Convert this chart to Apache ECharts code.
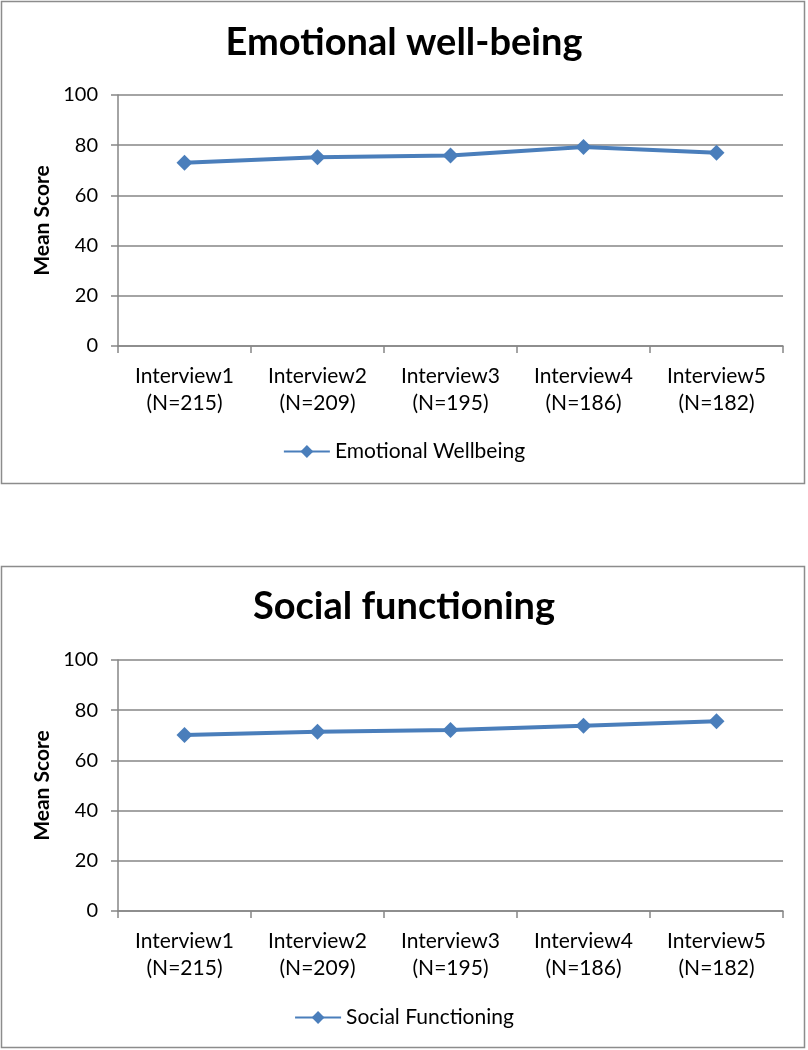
<!DOCTYPE html>
<html><head><meta charset="utf-8">
<script src="https://cdn.jsdelivr.net/npm/echarts@6/dist/echarts.min.js"></script>
<style>html,body{margin:0;padding:0;background:#fff}#c{width:808px;height:1050px}</style>
</head><body><div id="c"></div>
<script>
const categories = ['Interview1\n(N=215)','Interview2\n(N=209)','Interview3\n(N=195)','Interview4\n(N=186)','Interview5\n(N=182)'];
const emotionalWellbeing = [73.0, 75.2, 75.9, 79.3, 77.0];
const socialFunctioning = [70.1, 71.4, 72.1, 73.8, 75.6];
const titles = ['Emotional well-being','Social functioning'];
const seriesNames = ['Emotional Wellbeing','Social Functioning'];
const yTitle = 'Mean Score';

const FONT = 'Lato, "Open Sans", sans-serif';
const AX = '#868686';
const LINE = '#4a7ebb';
const chart = echarts.init(document.getElementById('c'));

function xAxis(i){return {type:'category',gridIndex:i,data:categories,boundaryGap:true,
  axisLine:{lineStyle:{color:AX,width:1.5}},axisTick:{show:true,length:7,lineStyle:{color:AX,width:1.5}},
  axisLabel:{color:'#000',fontFamily:FONT,fontSize:21,lineHeight:27,margin:17}};}
function yAxis(i){return {type:'value',gridIndex:i,min:0,max:100,interval:20,name:yTitle,nameLocation:'middle',nameGap:62,
  nameTextStyle:{color:'#000',fontFamily:FONT,fontSize:21,fontWeight:'bold'},
  axisLine:{show:true,lineStyle:{color:AX,width:1.5}},axisTick:{show:true,length:7,lineStyle:{color:AX,width:1.5}},
  splitLine:{lineStyle:{color:AX,width:1.5}},
  axisLabel:{color:'#000',fontFamily:FONT,fontSize:20,margin:20}};}
function ser(i,data){return {type:'line',name:seriesNames[i],xAxisIndex:i,yAxisIndex:i,data:data,
  symbol:'diamond',symbolSize:16,lineStyle:{color:LINE,width:4},itemStyle:{color:LINE},animation:false};}

chart.setOption({
  animation:false,
  graphic:[
    {type:'rect',shape:{x:1.5,y:1.5,width:803,height:482},style:{fill:'none',stroke:'#8c8c8c',lineWidth:1.5},silent:true},
    {type:'rect',shape:{x:1.5,y:566.5,width:803,height:481},style:{fill:'none',stroke:'#8c8c8c',lineWidth:1.5},silent:true}
  ],
  title:[
    {text:titles[0],left:'center',top:19,textStyle:{fontFamily:FONT,fontSize:38,fontWeight:'bold',color:'#000'}},
    {text:titles[1],left:'center',top:583,textStyle:{fontFamily:FONT,fontSize:38,fontWeight:'bold',color:'#000'}}
  ],
  legend:[
    {data:[seriesNames[0]],top:436,left:'center',itemWidth:46,itemHeight:16,itemGap:4,textStyle:{fontFamily:FONT,fontSize:21,color:'#000'}},
    {data:[seriesNames[1]],top:1002,left:'center',itemWidth:46,itemHeight:16,itemGap:4,textStyle:{fontFamily:FONT,fontSize:21,color:'#000'}}
  ],
  grid:[
    {left:118,width:665,top:95,height:251},
    {left:118,width:665,top:660,height:251}
  ],
  xAxis:[xAxis(0),xAxis(1)],
  yAxis:[yAxis(0),yAxis(1)],
  series:[ser(0,emotionalWellbeing),ser(1,socialFunctioning)]
});
</script></body></html>
